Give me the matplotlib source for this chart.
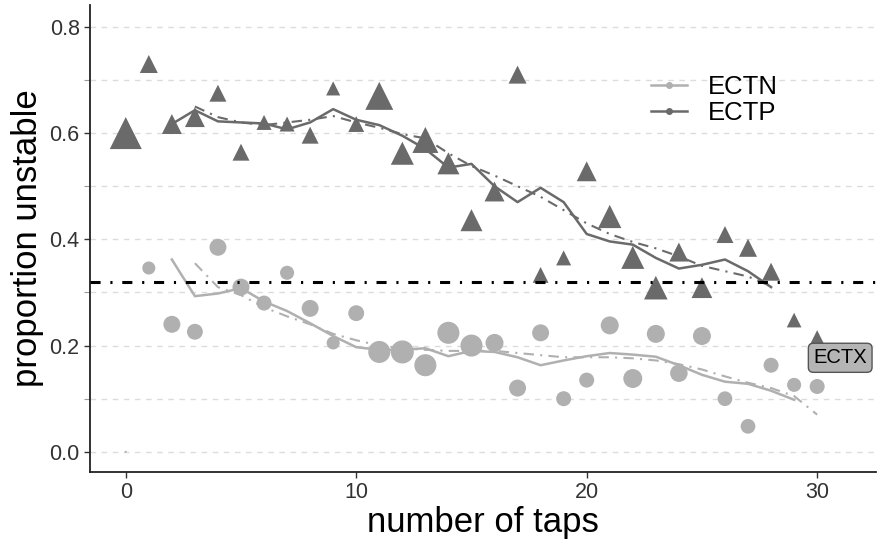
import matplotlib
matplotlib.use("Agg")
import matplotlib.pyplot as plt
import numpy as np

plt.rcParams['font.family'] = ['Liberation Sans', 'DejaVu Sans']

taps = list(range(31))

# ECTP (triangles)
ectp_prop = [0.600, 0.730, 0.617, 0.630, 0.675, 0.564, 0.620, 0.617, 0.596, 0.684,
             0.617, 0.670, 0.562, 0.587, 0.543, 0.436, 0.490, 0.710, 0.333, 0.365,
             0.528, 0.443, 0.366, 0.309, 0.376, 0.309, 0.409, 0.384, 0.339, 0.248,
             0.213]
ectp_n = [114, 36, 44, 44, 32, 32, 25, 25, 32, 22,
          28, 87, 59, 75, 54, 54, 44, 36, 28, 25,
          44, 60, 59, 62, 40, 48, 32, 36, 36, 24,
          32]

# ECTN (circles)
ectn_prop = [0.000, 0.346, 0.240, 0.226, 0.385, 0.310, 0.280, 0.337, 0.270, 0.205,
             0.261, 0.188, 0.188, 0.163, 0.224, 0.200, 0.205, 0.120, 0.224, 0.100,
             0.135, 0.238, 0.138, 0.222, 0.148, 0.218, 0.100, 0.048, 0.163, 0.126,
             0.123]
ectn_n = [0.5, 19, 32, 28, 32, 32, 25, 22, 32, 19,
          28, 54, 59, 54, 54, 54, 36, 32, 32, 25,
          25, 36, 40, 36, 34, 36, 24, 24, 25, 22,
          25]

# smoothed trends
ectp_fit_x = list(range(2, 29))
ectp_fit = [0.617, 0.643, 0.622, 0.620, 0.618, 0.607, 0.620, 0.645, 0.625, 0.615,
            0.595, 0.570, 0.535, 0.542, 0.500, 0.470, 0.497, 0.470, 0.410, 0.396,
            0.390, 0.365, 0.345, 0.352, 0.362, 0.340, 0.310]
ectp_alt_x = list(range(3, 29))
ectp_alt = [0.650, 0.630, 0.620, 0.615, 0.620, 0.625, 0.632, 0.620, 0.610, 0.598,
            0.590, 0.562, 0.538, 0.520, 0.500, 0.480, 0.455, 0.430, 0.410, 0.395,
            0.383, 0.368, 0.350, 0.340, 0.330, 0.312]
ectn_fit_x = list(range(2, 30))
ectn_fit = [0.362, 0.293, 0.298, 0.308, 0.283, 0.265, 0.242, 0.218, 0.197, 0.192,
            0.192, 0.195, 0.180, 0.190, 0.188, 0.178, 0.163, 0.172, 0.180, 0.186,
            0.183, 0.179, 0.163, 0.145, 0.132, 0.128, 0.115, 0.098]
ectn_alt_x = list(range(3, 31))
ectn_alt = [0.355, 0.310, 0.295, 0.272, 0.255, 0.240, 0.222, 0.210, 0.200, 0.195,
            0.192, 0.190, 0.190, 0.190, 0.186, 0.182, 0.178, 0.178, 0.178, 0.176,
            0.172, 0.165, 0.155, 0.142, 0.130, 0.120, 0.105, 0.070]

threshold = 0.32

dark = '#6a6a6a'
light = '#b0b0b0'


def msize(n):
    # marker area from counts
    return (3 * np.sqrt(np.array(n)) * 0.72) ** 2


fig = plt.figure(figsize=(8.88, 5.4), dpi=100)
ax = fig.add_axes([0.1014, 0.1259, 0.885, 0.8648])

for y in np.arange(0, 0.81, 0.1):
    ax.axhline(y, color='#dcdcdc', lw=1.0, ls=(0, (4, 4)), zorder=0)

ax.scatter(taps, ectn_prop, s=msize(ectn_n), marker='o', color=light,
           edgecolors='none', zorder=2)
ax.scatter(taps, ectp_prop, s=msize(ectp_n), marker='^', color=dark,
           edgecolors='none', zorder=2)

ax.plot(ectn_fit_x, ectn_fit, color=light, lw=1.8, zorder=3)
ax.plot(ectn_alt_x, ectn_alt, color=light, lw=1.5, dashes=(5, 3, 1, 3), zorder=3)
ax.plot(ectp_fit_x, ectp_fit, color=dark, lw=1.8, zorder=3)
ax.plot(ectp_alt_x, ectp_alt, color=dark, lw=1.5, dashes=(5, 3, 1, 3), zorder=3)

ax.axhline(threshold, color='black', lw=2.2, dashes=(3.3, 3.2, 0.7, 3.2), zorder=4)

ax.text(31, 0.177, 'ECTX', fontsize=14.5, ha='center', va='center', zorder=5,
        bbox=dict(boxstyle='round,pad=0.25', fc='#b5b5b5', ec='#555555', lw=1))

h1, = ax.plot([], [], color=light, lw=1.8, marker='o', ms=4)
h2, = ax.plot([], [], color=dark, lw=1.8, marker='o', ms=4)
ax.legend([h1, h2], ['ECTN', 'ECTP'], loc='upper left', bbox_to_anchor=(0.685, 0.9),
          frameon=False, fontsize=18.5, handlelength=1.4, handletextpad=0.8,
          labelspacing=0.1)

ax.set_xlim(-1.55, 32.55)
ax.set_ylim(-0.038, 0.841)
ax.set_xticks([0, 10, 20, 30])
ax.set_yticks([0.0, 0.2, 0.4, 0.6, 0.8])
ax.set_yticklabels(['0.0', '0.2', '0.4', '0.6', '0.8'])
ax.set_yticks(np.arange(0.1, 0.8, 0.2), minor=True)
ax.tick_params(axis='both', which='major', labelsize=15.5, length=4, width=1,
               color='#333333', labelcolor='#333333')
ax.tick_params(axis='y', which='minor', length=4, width=0.8, color='#999999')
ax.set_xlabel('number of taps', fontsize=25, labelpad=2)
ax.set_ylabel('proportion unstable', fontsize=25, labelpad=4)

for side in ['top', 'right']:
    ax.spines[side].set_visible(False)
for side in ['left', 'bottom']:
    ax.spines[side].set_linewidth(1.3)
    ax.spines[side].set_color('#222222')

fig.savefig('out.png', dpi=100)
